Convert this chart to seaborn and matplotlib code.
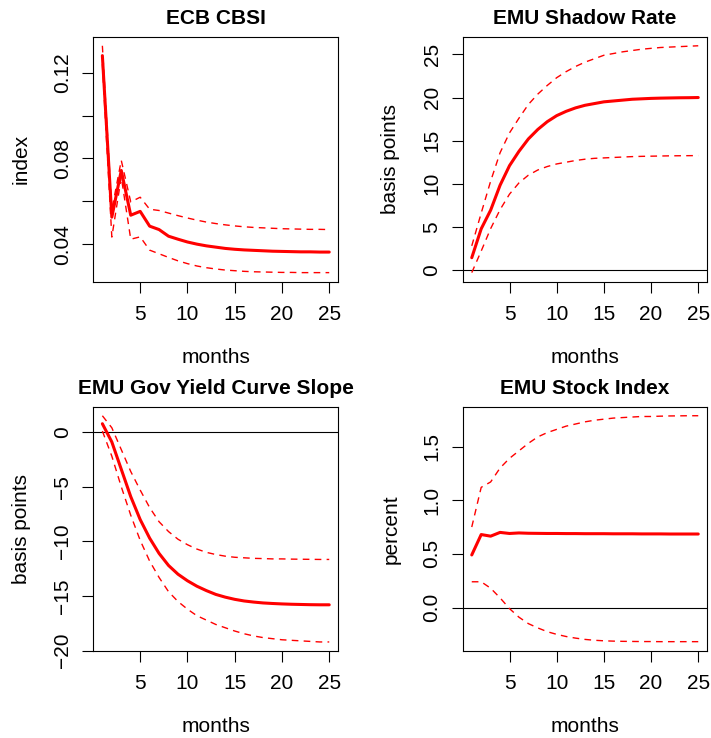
import numpy as np
import pandas as pd
import matplotlib
matplotlib.use("Agg")
import matplotlib.pyplot as plt
import seaborn as sns

# ---------------- data ----------------
months = list(range(1, 26))

cbsi_mid = [0.1280, 0.0526, 0.0744, 0.0535, 0.0553, 0.0484, 0.0468, 0.0437, 0.0423, 0.0410,
            0.0400, 0.0392, 0.0386, 0.0380, 0.0376, 0.0373, 0.0371, 0.0369, 0.0367, 0.0366,
            0.0365, 0.0364, 0.0364, 0.0363, 0.0363]
cbsi_up = [0.1326, 0.0560, 0.0791, 0.0597, 0.0619, 0.0563, 0.0557, 0.0545, 0.0533, 0.0522,
           0.0512, 0.0503, 0.0496, 0.0490, 0.0485, 0.0481, 0.0478, 0.0476, 0.0474, 0.0472,
           0.0471, 0.0470, 0.0469, 0.0469, 0.0468]
cbsi_lo = [0.1240, 0.0433, 0.0713, 0.0423, 0.0434, 0.0372, 0.0355, 0.0338, 0.0322, 0.0309,
           0.0298, 0.0290, 0.0284, 0.0279, 0.0276, 0.0273, 0.0271, 0.0270, 0.0269, 0.0268,
           0.0268, 0.0267, 0.0267, 0.0267, 0.0267]

shadow_mid = [1.43, 4.78, 6.94, 9.83, 12.1, 13.76, 15.2, 16.3, 17.2, 17.9,
              18.4, 18.8, 19.1, 19.3, 19.5, 19.6, 19.7, 19.8, 19.85, 19.9,
              19.93, 19.95, 19.97, 19.98, 20.0]
shadow_up = [2.8, 6.6, 10.3, 13.6, 15.9, 17.6, 19.2, 20.4, 21.4, 22.3,
             23.0, 23.6, 24.1, 24.5, 24.9, 25.1, 25.3, 25.45, 25.6, 25.7,
             25.8, 25.85, 25.9, 25.95, 26.0]
shadow_lo = [-0.3, 2.2, 4.8, 7.0, 8.8, 10.1, 11.0, 11.6, 12.0, 12.3,
             12.5, 12.7, 12.85, 12.95, 13.0, 13.05, 13.1, 13.15, 13.18, 13.2,
             13.22, 13.24, 13.25, 13.26, 13.27]

slope_mid = [0.77, -0.9, -3.4, -5.9, -8.0, -9.7, -11.1, -12.2, -13.0, -13.6,
             -14.1, -14.5, -14.85, -15.1, -15.3, -15.45, -15.55, -15.63, -15.68, -15.72,
             -15.75, -15.77, -15.79, -15.8, -15.8]
slope_up = [1.5, 0.4, -1.6, -3.6, -5.3, -6.9, -8.2, -9.1, -9.8, -10.3,
            -10.7, -11.0, -11.2, -11.35, -11.45, -11.5, -11.55, -11.57, -11.6, -11.6,
            -11.62, -11.63, -11.64, -11.65, -11.65]
slope_lo = [0.1, -2.2, -5.0, -7.6, -9.9, -11.8, -13.3, -14.6, -15.5, -16.2,
            -16.8, -17.2, -17.6, -17.9, -18.2, -18.45, -18.65, -18.8, -18.9, -19.0,
            -19.05, -19.1, -19.15, -19.2, -19.2]

stock_mid = [0.49, 0.68, 0.665, 0.70, 0.69, 0.695, 0.692, 0.691, 0.690, 0.690,
             0.689, 0.689, 0.688, 0.688, 0.688, 0.687, 0.687, 0.687, 0.686, 0.686,
             0.686, 0.685, 0.685, 0.685, 0.685]
stock_up = [0.75, 1.12, 1.17, 1.30, 1.39, 1.46, 1.53, 1.59, 1.63, 1.66,
            1.69, 1.71, 1.73, 1.745, 1.755, 1.765, 1.77, 1.775, 1.78, 1.78,
            1.783, 1.785, 1.786, 1.787, 1.787]
stock_lo = [0.24, 0.24, 0.18, 0.09, -0.01, -0.09, -0.15, -0.19, -0.225, -0.25,
            -0.27, -0.285, -0.297, -0.305, -0.31, -0.313, -0.315, -0.316, -0.317, -0.317,
            -0.318, -0.318, -0.318, -0.318, -0.318]

titles = ["ECB CBSI", "EMU Shadow Rate", "EMU Gov Yield Curve Slope", "EMU Stock Index"]
ylabels = ["index", "basis points", "basis points", "percent"]
xlabel = "months"
xticks = [5, 10, 15, 20, 25]
yticks = [[0.04, 0.06, 0.08, 0.10, 0.12],
          [0, 5, 10, 15, 20, 25],
          [-20, -15, -10, -5, 0],
          [0.0, 0.5, 1.0, 1.5]]
yticklabels = [["0.04", "", "0.08", "", "0.12"],
               ["0", "5", "10", "15", "20", "25"],
               ["\u221220", "\u221215", "\u221210", "\u22125", "0"],
               ["0.0", "0.5", "1.0", "1.5"]]

series = [(cbsi_mid, cbsi_up, cbsi_lo),
          (shadow_mid, shadow_up, shadow_lo),
          (slope_mid, slope_up, slope_lo),
          (stock_mid, stock_up, stock_lo)]

# ---------------- style ----------------
sns.set_style("white")
plt.rcParams['font.family'] = ['Liberation Sans', 'DejaVu Sans']
plt.rcParams['text.color'] = 'black'
plt.rcParams['axes.labelcolor'] = 'black'
plt.rcParams['xtick.color'] = 'black'
plt.rcParams['ytick.color'] = 'black'

W, H = 711, 738
fig = plt.figure(figsize=(W / 100, H / 100), dpi=100)

# axes rectangles in pixels: left, top, right, bottom
rects = [(93.3, 36.7, 338.3, 281.7),
         (462.7, 36.7, 707.3, 281.7),
         (93.3, 406.7, 338.3, 651.0),
         (462.7, 406.7, 707.3, 650.7)]

for i, (mid, up, lo) in enumerate(series):
    l, t, r, b = rects[i]
    ax = fig.add_axes([l / W, 1 - b / H, (r - l) / W, (b - t) / H])
    df = pd.DataFrame({"month": months, "mid": mid, "up": up, "lo": lo})
    ax.axhline(0, color="black", lw=0.8, zorder=1)
    sns.lineplot(data=df, x="month", y="up", ax=ax, color="#FF0000", lw=1.0,
                 linestyle=(0, (4.8, 3.8)), errorbar=None, zorder=2)
    sns.lineplot(data=df, x="month", y="lo", ax=ax, color="#FF0000", lw=1.0,
                 linestyle=(0, (4.8, 3.8)), errorbar=None, zorder=2)
    sns.lineplot(data=df, x="month", y="mid", ax=ax, color="#FF0000", lw=2.2,
                 errorbar=None, zorder=3)

    allv = np.concatenate([mid, up, lo])
    lo_v, hi_v = allv.min(), allv.max()
    pad = 0.04 * (hi_v - lo_v)
    ax.set_ylim(lo_v - pad, hi_v + pad)
    ax.set_xlim(1 - 0.96, 25 + 0.96)

    ax.set_xticks(xticks)
    ax.set_xticklabels([str(v) for v in xticks])
    ax.set_yticks(yticks[i])
    ax.set_yticklabels(yticklabels[i], rotation=90, va="center")

    ax.tick_params(axis="both", which="major", direction="out", length=7.9,
                   width=0.8, color="black", labelcolor="black", labelsize=15,
                   bottom=True, left=True, top=False, right=False)
    ax.tick_params(axis="x", pad=9.0)
    ax.tick_params(axis="y", pad=7.3)
    for s in ax.spines.values():
        s.set_color("black")
        s.set_linewidth(0.8)
        s.set_visible(True)

    ax.set_title(titles[i], fontsize=15, fontweight="bold", pad=9.5, color="black")
    ax.set_xlabel(xlabel, fontsize=15, labelpad=17, color="black")
    ax.set_ylabel(ylabels[i], fontsize=15, labelpad=16, color="black")

fig.savefig("out.png", dpi=100)
